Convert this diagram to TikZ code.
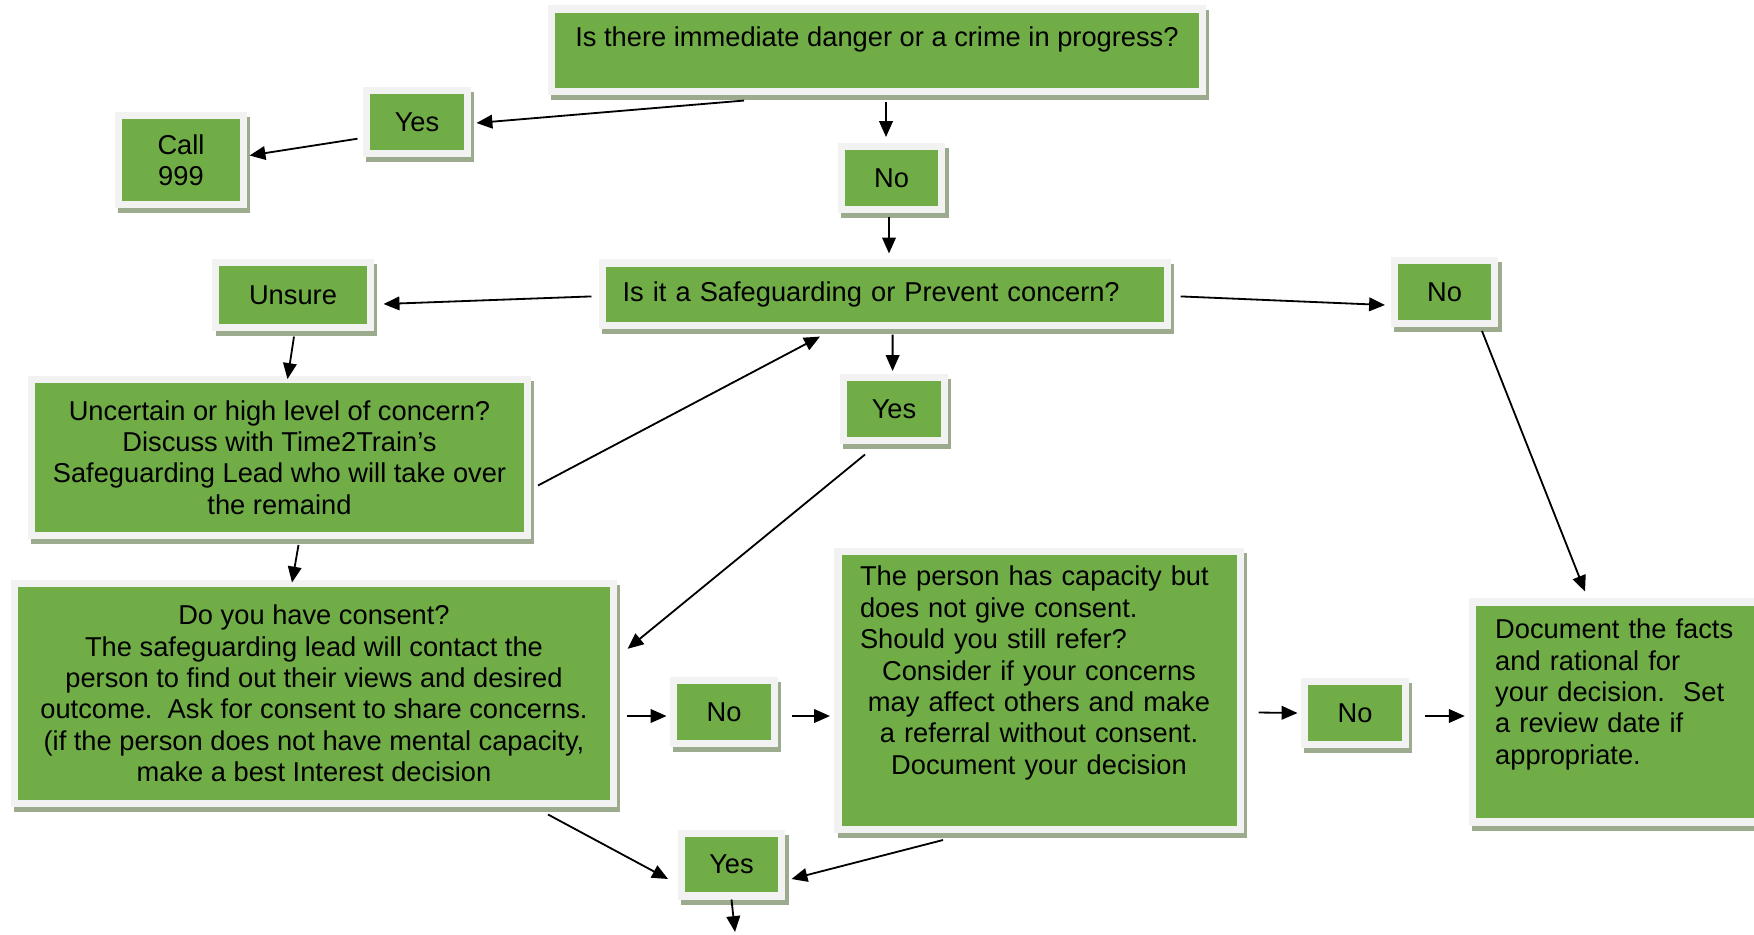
\documentclass[tikz,border=0pt]{standalone}
\usepackage{fontspec}
\setmainfont{Liberation Sans}
\usetikzlibrary{calc,arrows.meta,shadows}
\definecolor{boxgreen}{HTML}{70AD47}
\definecolor{framegrey}{HTML}{F2F2F2}
\definecolor{shadowgreen}{HTML}{9CAA8E}

\begin{document}
\begin{tikzpicture}[x=0.44pt,y=-0.44pt,
    box/.style={draw=framegrey,line width=3.1pt,fill=boxgreen,inner sep=0pt,align=center,
      font=\fontsize{12}{13.8}\selectfont,
      drop shadow={shadow xshift=1.4pt,shadow yshift=-2.2pt,fill=shadowgreen,draw=shadowgreen,line width=3.1pt,opacity=1}},
    ans/.style={box,minimum width=44.4pt,minimum height=27.7pt},
    arr/.style={line width=0.8pt,-{Triangle[length=7pt,width=6pt]}}]
    \useasboundingbox (0,0) rectangle (1754,934);
    \node[box,minimum width=286.4pt,minimum height=36.1pt] (danger) at (877,50) {Is there immediate danger or a crime in progress?\\[-6pt] \strut};
    \node[ans] (yes1) at (417,122) {Yes};
    \node[box,minimum width=55pt,minimum height=39.2pt] (call) at (181,160) {Call\\999};
    \node[ans] (no1) at (891.5,178) {No};
    \node[box,minimum height=27.3pt,inner xsep=8.8pt,text width=231pt,align=left] (concern) at (885,294) {Is it a Safeguarding or Prevent concern?};
    \node[box,minimum width=67.8pt,minimum height=28.2pt] (unsure) at (293,295) {Unsure};
    \node[ans] (no2) at (1444.5,292) {No};
    \node[ans] (yes2) at (894,409) {Yes};
    \node[box,minimum width=218.2pt,minimum height=68.6pt] (discuss) at (279.5,457.5) {Uncertain or high level of concern?\\Discuss with Time2Train’s\\Safeguarding Lead who will take over\\the remaind};
    \node[box,minimum width=263.6pt,minimum height=97.2pt] (consent) at (314,693.5) {Do you have consent?\\The safeguarding lead will contact the\\person to find out their views and desired\\outcome.\ \ Ask for consent to share concerns.\\(if the person does not have mental capacity,\\make a best Interest decision};
    \node[ans] (no3) at (724,712) {No};
    \node[box,minimum height=122.3pt,inner xsep=9.7pt,text width=157.5pt] (capacity) at (1039,690.5) {\makebox[\linewidth][l]{The person has capacity but}\\\makebox[\linewidth][l]{does not give consent.}\\\makebox[\linewidth][l]{Should you still refer?}\\Consider if your concerns\\may affect others and make\\a referral without consent.\\Document your decision\\ \strut};
    \node[ans] (no4) at (1355,713) {No};
    \node[box,minimum height=96.8pt,inner xsep=10.1pt,text width=112pt,align=left] (record) at (1622.5,712) {Document the facts\\and rational for\\your decision.\ \ Set\\a review date if\\appropriate.\\ \strut};
    \node[ans] (yes3) at (731.5,864.5) {Yes};
    \coordinate (onward) at (735,932);
    \draw[arr] ($(danger.south)+(-133,6)$) -- ($(yes1.east)+(5.5,1)$);
    \draw[arr] ($(yes1.west)+(-5.5,16.7)$) -- ($(call.east)+(2.5,-4.5)$);
    \draw[arr] ($(danger.south)+(9,7.4)$) -- ($(no1.north)+(-5.5,-6)$);
    \draw[arr] ($(no1.south)+(-2.5,3.5)$) -- ($(concern.north)+(4,-6)$);
    \draw[arr] ($(concern.west)+(-7.5,2.4)$) -- ($(unsure.east)+(10,9)$);
    \draw[arr] ($(concern.east)+(9.5,2.4)$) -- ($(no2.west)+(-5.5,13)$);
    \draw[arr] ($(concern.south)+(7.6,6)$) -- ($(yes2.north)+(-1.4,-3)$);
    \draw[arr] ($(unsure.south)+(1,6)$) -- ($(discuss.north)+(8,3)$);
    \draw[arr] ($(discuss.east)+(7,28)$) -- ($(concern.south)+(-65,8)$);
    \draw[arr] ($(yes2.south)+(-29,10.5)$) -- ($(consent.east)+(10.5,-44.7)$);
    \draw[arr] ($(no2.south)+(37.5,4)$) -- ($(record.north)+(-37.5,-7)$);
    \draw[arr] ($(discuss.south)+(19,6)$) -- ($(consent.north)+(-22,3)$);
    \draw[arr] ($(consent.east)+(9.5,22.5)$) -- ($(no3.west)+(-3.5,4)$);
    \draw[arr] ($(no3.east)+(14,4)$) -- ($(capacity.west)+(-4.5,25.5)$);
    \draw[arr] ($(capacity.east)+(15,22)$) -- ($(no4.west)+(-3.5,0)$);
    \draw[arr] ($(no4.east)+(16,3)$) -- ($(record.west)+(-4,4)$);
    \draw[arr] ($(consent.south)+(234,7)$) -- ($(yes3.west)+(-9.5,14.5)$);
    \draw[arr] ($(capacity.south)+(-96,7)$) -- ($(yes3.east)+(6,14.5)$);
    \draw[arr] (yes3.south) -- (onward);
\end{tikzpicture}
\end{document}
